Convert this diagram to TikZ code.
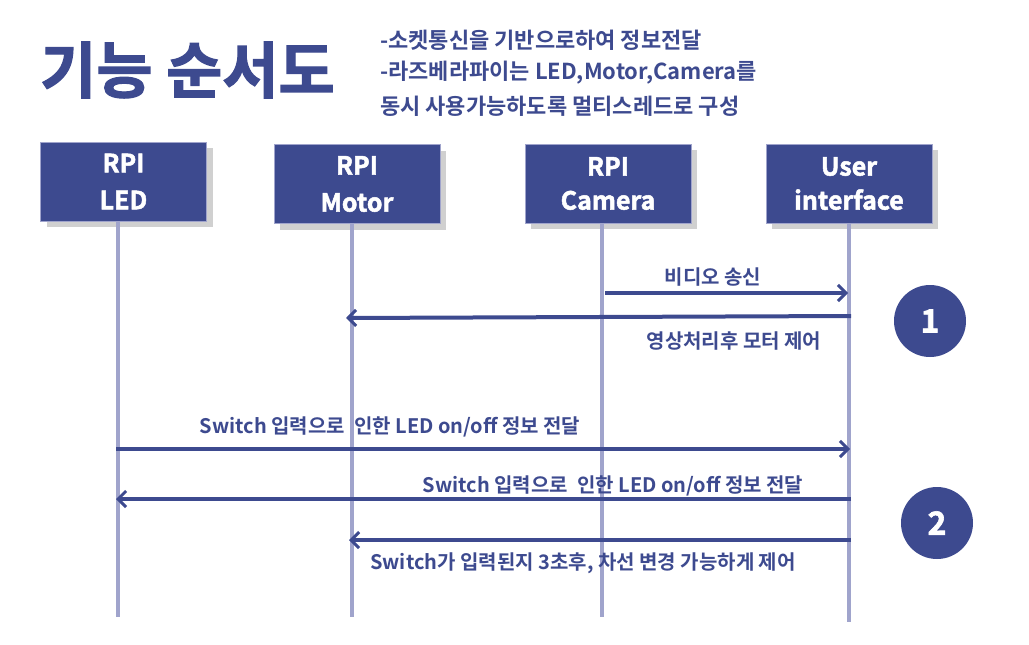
\documentclass[tikz,border=0pt]{standalone}
\usepackage{fontspec}
\setmainfont{Noto Sans CJK KR}[BoldFont={Noto Sans CJK KR Bold}]
\newfontfamily\heavy{Noto Sans CJK KR Bold}[FakeBold=2]
\usetikzlibrary{arrows.meta,shadows}
\definecolor{navy}{RGB}{61,74,143}
\definecolor{life}{RGB}{160,164,204}
\definecolor{shad}{RGB}{208,208,208}
\tikzset{
  actor/.style={draw=life,line width=0.8pt,fill=navy,minimum width=166pt,minimum height=79pt,
    text=white,font=\heavy\fontsize{25}{37}\selectfont,align=center,inner sep=0pt,
    drop shadow={shadow xshift=6pt,shadow yshift=-6pt,fill=shad,opacity=1}},
  lifeline/.style={draw=life,line width=4pt},
  msg/.style={draw=navy,line width=4pt,-{Straight Barb[length=8pt,width=16pt,line width=3pt]}},
  msgtext/.style={text=navy,font=\bfseries\fontsize{20}{24}\selectfont,inner sep=0pt},
  badge/.style={circle,fill=navy,minimum size=72pt,inner sep=0pt,text=white,font=\heavy\fontsize{32}{32}\selectfont},
  header/.style={text=navy,font=\bfseries\fontsize{22}{26}\selectfont,anchor=west,inner sep=0pt}
}
\begin{document}
\begin{tikzpicture}[x=1pt,y=-1pt]
\useasboundingbox (0,0) rectangle (1029,645);
% title
\node[text=navy,font=\heavy\fontsize{61}{64}\selectfont,anchor=west,inner sep=0pt] (title) at (40,70) {기능 순서도};
\node[header] (h1) at (380,40) {-소켓통신을 기반으로하여 정보전달};
\node[header] (h2) at (380,73) {-라즈베라파이는 LED,Motor,Camera를};
\node[header] (h3) at (380,106) {동시 사용가능하도록 멀티스레드로 구성};
% actors
\node[actor] (led) at (123.5,181.5) {RPI\\LED};
\node[actor] (motor) at (357,184) {RPI\\Motor};
\node[actor] (cam) at (608,183.5) {RPI\\[-3pt]Camera};
\node[actor] (ui) at (849,183.5) {User\\[-3pt]interface};
% lifeline end points
\coordinate (ledE) at (118,617);
\coordinate (motorE) at (352,617);
\coordinate (camE) at (602,617);
\coordinate (uiE) at (849,622);
\draw[lifeline] (led.south -| ledE) -- (ledE);
\draw[lifeline] (motor.south -| motorE) -- (motorE);
\draw[lifeline] (cam.south -| camE) -- (camE);
\draw[lifeline] (ui.south -| uiE) -- (uiE);
% messages
\coordinate (m1s) at (605,293); \coordinate (m1e) at (848,293);
\draw[msg] (m1s) -- (m1e);
\node[msgtext] (t1) at (713,277) {비디오 송신};
\coordinate (m2s) at (851,316); \coordinate (m2e) at (346,318);
\draw[msg] (m2s) -- (m2e);
\node[msgtext] (t2) at (734,341) {영상처리후 모터 제어};
\coordinate (m3s) at (116,449); \coordinate (m3e) at (850,449);
\draw[msg] (m3s) -- (m3e);
\node[msgtext] (t3) at (390,427) {Switch 입력으로~ 인한 LED on/off 정보 전달};
\coordinate (m4s) at (851,499); \coordinate (m4e) at (116,499);
\draw[msg] (m4s) -- (m4e);
\node[msgtext] (t4) at (613,486) {Switch 입력으로~ 인한 LED on/off 정보 전달};
\coordinate (m5s) at (851,540); \coordinate (m5e) at (349,540);
\draw[msg] (m5s) -- (m5e);
\node[msgtext] (t5) at (583,563) {Switch가 입력된지 3초후, 차선 변경 가능하게 제어};
% badges
\node[badge] (b1) at (930,321) {1};
\node[badge] (b2) at (937,523) {2};
\end{tikzpicture}
\end{document}
